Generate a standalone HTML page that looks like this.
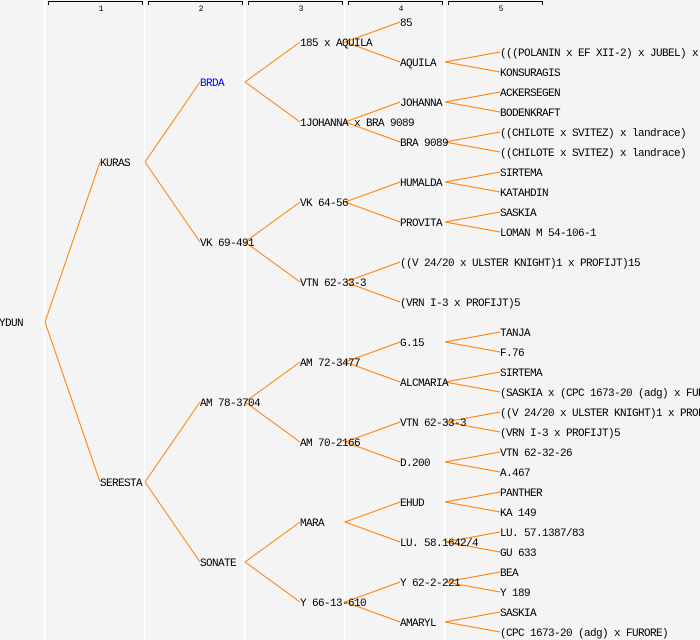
<!DOCTYPE html>
<html><head><meta charset="utf-8"><style>
html,body{margin:0;padding:0;background:#f4f4f4;}
svg{display:block;}
text{font-family:"Liberation Mono",monospace;font-size:11px;letter-spacing:-0.6px;fill:#000;}
text.h{font-size:8px;letter-spacing:0;}
</style></head><body>
<svg width="700" height="640" viewBox="0 0 700 640">
<rect width="700" height="640" fill="#f4f4f4"/>
<g stroke="#fff" stroke-width="1.5">
<line x1="44.5" y1="0" x2="44.5" y2="640"/><line x1="144.5" y1="0" x2="144.5" y2="640"/>
<line x1="244.5" y1="0" x2="244.5" y2="640"/><line x1="344.5" y1="0" x2="344.5" y2="640"/>
<line x1="444.5" y1="0" x2="444.5" y2="640"/>
</g>
<g stroke="#000" stroke-width="1" fill="none">
<path d="M48.5 5V1.5H142.5V5"/><path d="M148.5 5V1.5H242.5V5"/><path d="M248.5 5V1.5H342.5V5"/><path d="M348.5 5V1.5H442.5V5"/><path d="M448.5 5V1.5H542.5V5"/>
</g>
<g text-anchor="middle">
<text class="h" x="101" y="11">1</text><text class="h" x="201" y="11">2</text><text class="h" x="301" y="11">3</text><text class="h" x="401" y="11">4</text><text class="h" x="501" y="11">5</text>
</g>
<g stroke="#ff8000" stroke-width="1" fill="none">
<path d="M100 162L45 322L100 482"/>
<path d="M200 82L145 162L200 242"/><path d="M200 402L145 482L200 562"/>
<path d="M300 42L245 82L300 122"/><path d="M300 202L245 242L300 282"/><path d="M300 362L245 402L300 442"/><path d="M300 522L245 562L300 602"/>
<path d="M400 22L345 42L400 62"/><path d="M400 102L345 122L400 142"/><path d="M400 182L345 202L400 222"/><path d="M400 262L345 282L400 302"/>
<path d="M400 342L345 362L400 382"/><path d="M400 422L345 442L400 462"/><path d="M400 502L345 522L400 542"/><path d="M400 582L345 602L400 622"/>
<path d="M500 52L445 62L500 72"/><path d="M500 92L445 102L500 112"/><path d="M500 132L445 142L500 152"/><path d="M500 172L445 182L500 192"/><path d="M500 212L445 222L500 232"/>
<path d="M500 332L445 342L500 352"/><path d="M500 372L445 382L500 392"/><path d="M500 412L445 422L500 432"/><path d="M500 452L445 462L500 472"/>
<path d="M500 492L445 502L500 512"/><path d="M500 532L445 542L500 552"/><path d="M500 572L445 582L500 592"/><path d="M500 612L445 622L500 632"/>
</g>
<text x="-1" y="326">YDUN</text>
<text x="100" y="166">KURAS</text><text x="100" y="486">SERESTA</text>
<text x="200" y="86" style="fill:#0000ff">BRDA</text><text x="200" y="246">VK 69-491</text><text x="200" y="406">AM 78-3704</text><text x="200" y="566">SONATE</text>
<text x="300" y="46">185 x AQUILA</text><text x="300" y="126">1JOHANNA x BRA 9089</text><text x="300" y="206">VK 64-56</text><text x="300" y="286">VTN 62-33-3</text>
<text x="300" y="366">AM 72-3477</text><text x="300" y="446">AM 70-2166</text><text x="300" y="526">MARA</text><text x="300" y="606">Y 66-13-610</text>
<text x="400" y="26">85</text><text x="400" y="66">AQUILA</text><text x="400" y="106">JOHANNA</text><text x="400" y="146">BRA 9089</text>
<text x="400" y="186">HUMALDA</text><text x="400" y="226">PROVITA</text><text x="400" y="266">((V 24/20 x ULSTER KNIGHT)1 x PROFIJT)15</text><text x="400" y="306">(VRN I-3 x PROFIJT)5</text>
<text x="400" y="346">G.15</text><text x="400" y="386">ALCMARIA</text><text x="400" y="426">VTN 62-33-3</text><text x="400" y="466">D.200</text>
<text x="400" y="506">EHUD</text><text x="400" y="546">LU. 58.1642/4</text><text x="400" y="586">Y 62-2-221</text><text x="400" y="626">AMARYL</text>
<text x="500" y="56">(((POLANIN x EF XII-2) x JUBEL) x</text><text x="500" y="76">KONSURAGIS</text>
<text x="500" y="96">ACKERSEGEN</text><text x="500" y="116">BODENKRAFT</text>
<text x="500" y="136">((CHILOTE x SVITEZ) x landrace)</text><text x="500" y="156">((CHILOTE x SVITEZ) x landrace)</text>
<text x="500" y="176">SIRTEMA</text><text x="500" y="196">KATAHDIN</text><text x="500" y="216">SASKIA</text><text x="500" y="236">LOMAN M 54-106-1</text>
<text x="500" y="336">TANJA</text><text x="500" y="356">F.76</text><text x="500" y="376">SIRTEMA</text><text x="500" y="396">(SASKIA x (CPC 1673-20 (adg) x FURORE))</text>
<text x="500" y="416">((V 24/20 x ULSTER KNIGHT)1 x PROFIJT)15</text><text x="500" y="436">(VRN I-3 x PROFIJT)5</text>
<text x="500" y="456">VTN 62-32-26</text><text x="500" y="476">A.467</text>
<text x="500" y="496">PANTHER</text><text x="500" y="516">KA 149</text><text x="500" y="536">LU. 57.1387/83</text><text x="500" y="556">GU 633</text>
<text x="500" y="576">BEA</text><text x="500" y="596">Y 189</text><text x="500" y="616">SASKIA</text><text x="500" y="636">(CPC 1673-20 (adg) x FURORE)</text>
</svg>
</body></html>
